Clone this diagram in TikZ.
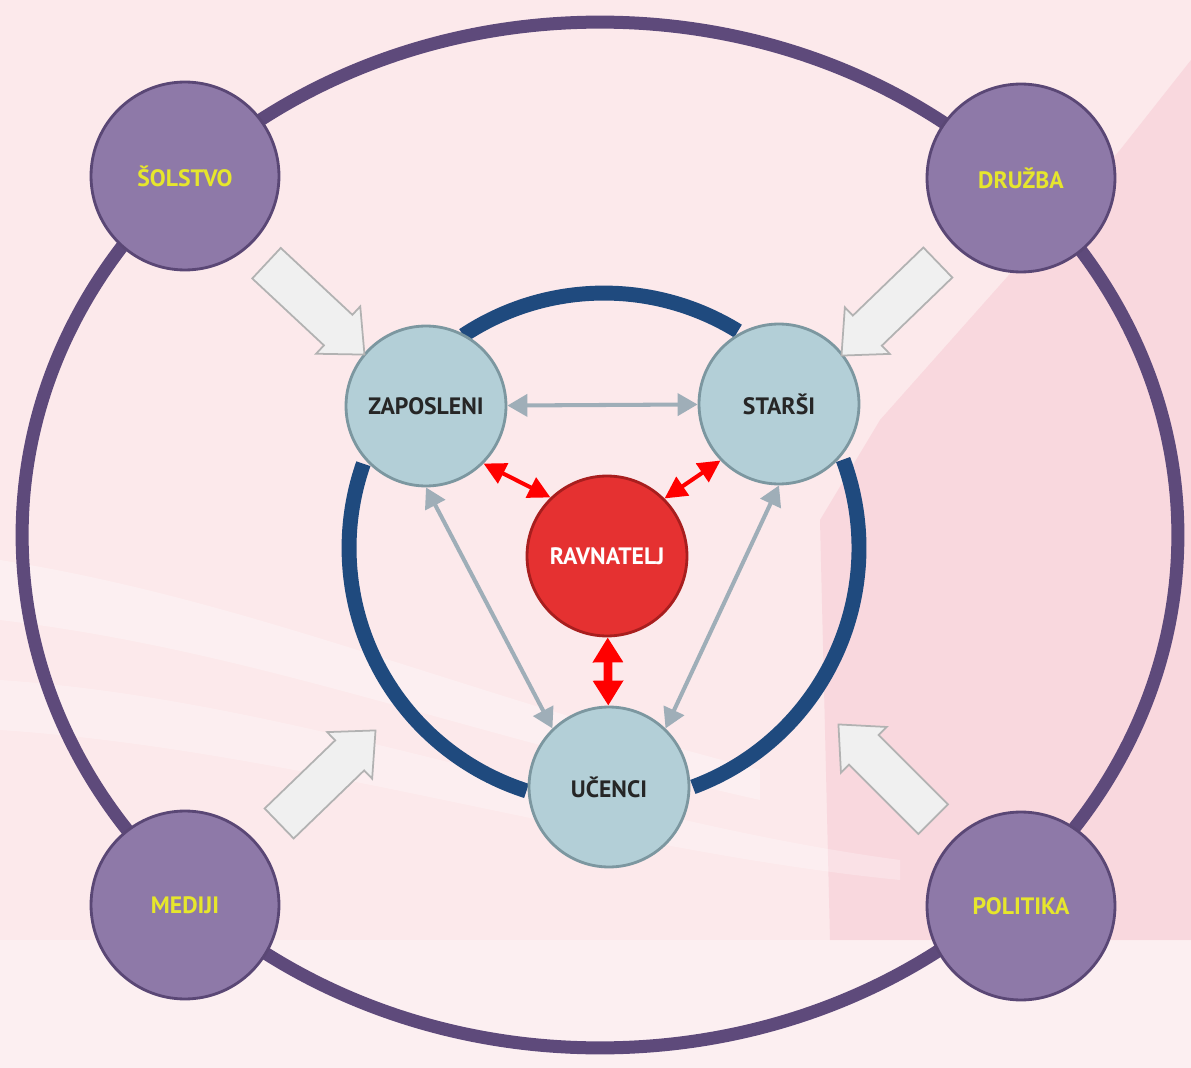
\documentclass[tikz,border=0pt]{standalone}
\usepackage{fontspec}
\setmainfont{PT Sans}
\definecolor{bgpink}{HTML}{FCE9EB}
\definecolor{bgrose}{HTML}{F9D8DE}
\definecolor{ringpurple}{HTML}{5E4A7B}
\definecolor{outerfill}{HTML}{8E79A8}
\definecolor{outerline}{HTML}{5A4775}
\definecolor{labelyellow}{HTML}{E6E62C}
\definecolor{ringblue}{HTML}{1F4A7E}
\definecolor{memberfill}{HTML}{B3CFD7}
\definecolor{memberline}{HTML}{7C97A0}
\definecolor{headred}{HTML}{E53131}
\definecolor{headline}{HTML}{A81E1E}
\definecolor{linkgray}{HTML}{9FAEB8}
\usetikzlibrary{%
    arrows.meta,
    shapes.arrows,
}
\tikzset{%
    base/.style = {
        circle,
        inner sep=0pt,
        text centered,
        font=\bfseries\fontsize{13.5}{15}\selectfont,
        line width=1.6pt,
    },
    outer/.style = {
        base,
        minimum size=3.76cm,
        fill=outerfill,
        draw=outerline,
        text=labelyellow,
    },
    member/.style = {
        base,
        minimum size=3.2cm,
        fill=memberfill,
        draw=memberline,
        text=black!85,
    },
    lead/.style = {
        base,
        minimum size=3.2cm,
        fill=headred,
        draw=headline,
        text=white,
    },
    influence/.style = {
        single arrow,
        single arrow head extend=0.23cm,
        single arrow tip angle=84,
        minimum height=2.68cm,
        inner xsep=0pt,
        inner ysep=0.4cm,
        fill=gray!12,
        draw=gray!60,
        line width=1pt,
    },
    link/.style = {
        draw=linkgray,
        line width=2.3pt,
        {Triangle[length=0.4cm,width=0.44cm]}-{Triangle[length=0.4cm,width=0.44cm]},
    },
    redlink/.style = {
        draw=red,
        line width=2.3pt,
        {Triangle[length=0.44cm,width=0.44cm]}-{Triangle[length=0.44cm,width=0.44cm]},
    },
    bigredlink/.style = {
        draw=red,
        line width=5pt,
        {Triangle[length=0.5cm,width=0.58cm]}-{Triangle[length=0.5cm,width=0.58cm]},
    },
    outerring/.style = {draw=ringpurple, line width=7.4pt},
    innerring/.style = {draw=ringblue, line width=8.5pt},
}

\begin{document}
\begin{tikzpicture}[x=0.02cm, y=-0.02cm]
    % background
    \useasboundingbox (0,0) rectangle (1191,1068);
    \fill[bgpink] (0,0) rectangle (1191,1068);
    \fill[bgrose] (1191,60) -- (1120,150) -- (880,420) -- (820,520) -- (830,940) -- (1191,940) -- cycle;
    \fill[white, opacity=0.3] (0,940) rectangle (1191,1068);
    \fill[white, opacity=0.3] (0,560) .. controls (250,600) and (450,690) .. (760,770)
        -- (760,800) .. controls (450,730) and (250,650) .. (0,620) -- cycle;
    \fill[white, opacity=0.25] (0,680) .. controls (300,700) and (600,820) .. (900,860)
        -- (900,880) .. controls (600,850) and (300,750) .. (0,730) -- cycle;

    % rings
    \draw[outerring] (600,535) ellipse [x radius=11.56cm, y radius=10.26cm];
    \begin{scope}[shift={(604,548)}]
        \draw[innerring] (58.3:5.1cm) arc[start angle=58.3, end angle=123.5, radius=5.1cm];
        \draw[innerring] (160.7:5.1cm) arc[start angle=160.7, end angle=252.3, radius=5.1cm];
        \draw[innerring] (-69.6:5.1cm) arc[start angle=-69.6, end angle=20.3, radius=5.1cm];
    \end{scope}

    % outer circle
    \node [outer] (solstvo) at (185,176) {ŠOLSTVO};
    \node [outer] (druzba) at (1021,178) {DRUŽBA};
    \node [outer] (mediji) at (185,905) {MEDIJI};
    \node [outer] (politika) at (1021,906) {POLITIKA};

    % school
    \node [member] (zaposleni) at (426,406) {ZAPOSLENI};
    \node [member] (starsi) at (779,404) {STARŠI};
    \node [member] (ucenci) at (609,787) {UČENCI};
    \node [lead] (ravnatelj) at (607,556) {RAVNATELJ};

    \draw [link] (zaposleni) -- (starsi);
    \draw [link] (zaposleni.south) -- (ucenci.134);
    \draw [link] (starsi.south) -- (ucenci.46);
    \draw [redlink] (zaposleni.-45) -- (ravnatelj.134);
    \draw [redlink] (starsi.-136) -- (ravnatelj.45);
    \draw [bigredlink] (ravnatelj) -- (ucenci);

    % influences
    \node [influence, rotate=-43] (solstvoarrow) at (307,301) {};
    \node [influence, rotate=-136] (druzbaarrow) at (898,301) {};
    \node [influence, rotate=44] (medijiarrow) at (319,785) {};
    \node [influence, rotate=135] (politikaarrow) at (894,780) {};
\end{tikzpicture}
\end{document}
